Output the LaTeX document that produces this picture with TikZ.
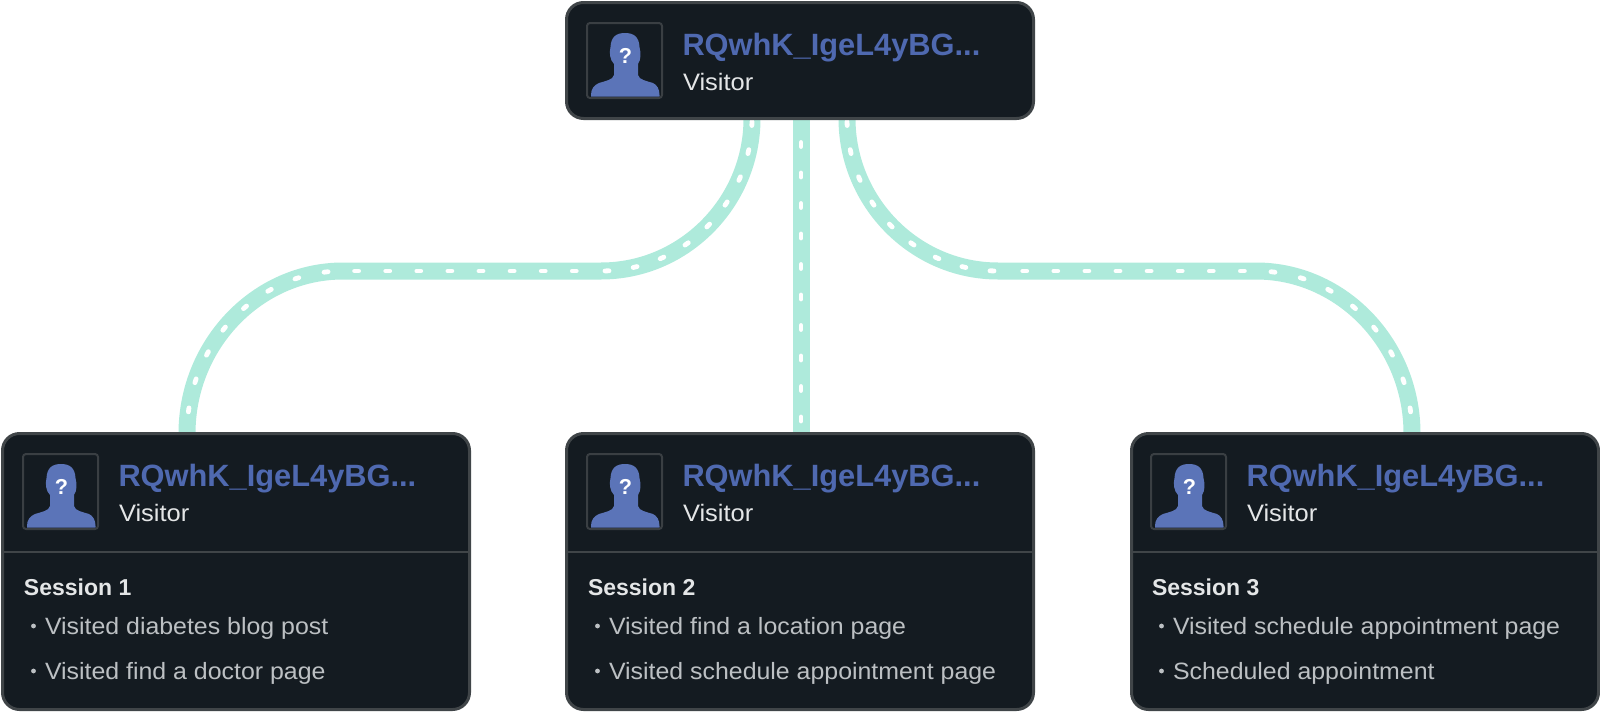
\documentclass[tikz,border=0pt]{standalone}
\usepackage{fontspec}
\setmainfont{Liberation Sans}
\newfontfamily\itemfont{Liberation Sans}[FakeStretch=1.055]
\newfontfamily\rolefont{Liberation Sans}[FakeStretch=1.07]
\usetikzlibrary{backgrounds}
\definecolor{cardbg}{HTML}{141B21}
\definecolor{cardedge}{HTML}{404548}
\definecolor{namecol}{HTML}{4F69B0}
\definecolor{avatarcol}{HTML}{5B74B8}
\definecolor{frameedge}{HTML}{3A3F43}
\definecolor{linkcol}{HTML}{AEEADB}
\definecolor{itemcol}{HTML}{BCC0C3}
\definecolor{softwhite}{HTML}{E4E6E7}
\tikzset{
  card/.style={rectangle,draw=cardedge,line width=1.5pt,fill=cardbg,rounded corners=8.5pt,
    minimum width=233.5pt,outer sep=0pt,inner sep=0pt},
  headcard/.style={card,minimum height=58pt},
  bigcard/.style={card,minimum height=138pt},
  textlabel/.style={anchor=base west,inner sep=0pt,outer sep=0pt},
  visname/.style={textlabel,text=namecol,font=\fontsize{15.4pt}{18pt}\selectfont\bfseries},
  visrole/.style={textlabel,text=softwhite,font=\rolefont\fontsize{11.9pt}{14pt}\selectfont},
  sesstitle/.style={textlabel,text=softwhite,font=\fontsize{11.5pt}{14pt}\selectfont\bfseries},
  sessitem/.style={textlabel,text=itemcol,font=\itemfont\fontsize{11.8pt}{14pt}\selectfont},
  linkbase/.style={draw=linkcol,line width=8.5pt},
  linkdash/.style n args={2}{draw=white,line width=2.4pt,line cap=round,
    dash pattern=on 2pt off #1,dash phase=#2},
  topdash/.style={linkdash={12.2pt}{12.7pt}},
  rundash/.style={linkdash={13.55pt}{3.2pt}},
  lowdash/.style={linkdash={12.95pt}{7.45pt}},
  middash/.style={linkdash={13.25pt}{3.25pt}},
  frameicon/.style={draw=frameedge,line width=1pt,rounded corners=1.5pt},
}
% #1 name prefix, #2 x of card left, #3 y of card top
\newcommand{\visitorhead}[3]{%
  \begin{scope}[shift={(#2+22,#3+22)}]
    \fill[avatarcol] (38,10) .. controls (47,10) and (52,14) .. (52.5,24)
      .. controls (54,30) and (54,37) .. (51,41) -- (51,52)
      .. controls (52,57) and (60,58) .. (66,60)
      .. controls (70,62) and (72.5,66) .. (72.5,72) -- (72.5,73.5) -- (4,73.5) -- (4,72)
      .. controls (4,66) and (7,62) .. (12,60)
      .. controls (18,58) and (26,57) .. (27,52) -- (27,41)
      .. controls (23,37) and (22,30) .. (23.5,24) .. controls (24,14) and (29,10) .. (38,10) -- cycle;
    \draw[frameicon] (0,0) rectangle (75,75);
    \node[inner sep=0pt,text=white,font=\fontsize{10.8pt}{13pt}\selectfont\bfseries] (#1q) at (38.5,33) {?};
  \end{scope}
  \node[visname] (#1name) at (#2+117.5,#3+54) {RQwhK\_IgeL4yBG...};
  \node[visrole] (#1role) at (#2+118,#3+89) {Visitor};
}
% #1 prefix, #2 card left, #3 session, #4 first item, #5 second item
\newcommand{\sessionbody}[5]{%
  \draw[cardedge,line width=1pt] (#2+2,552) -- (#2+468,552);
  \node[sesstitle] (#1title) at (#2+23,595) {Session #3};
  \fill[itemcol] (#2+32.5,626) circle (1.2pt);
  \fill[itemcol] (#2+32.5,671) circle (1.2pt);
  \node[sessitem] (#1first) at (#2+44,634) {#4};
  \node[sessitem] (#1second) at (#2+44,679) {#5};
}
\begin{document}
\begin{tikzpicture}[x=0.5pt,y=-0.5pt]
\useasboundingbox (0,0) rectangle (1600,712);
\node[headcard] (top) at (800,60.5) {};
\node[bigcard] (one) at (236,571.5) {};
\node[bigcard] (two) at (800,571.5) {};
\node[bigcard] (three) at (1365,571.5) {};
\visitorhead{t}{565}{1}
\visitorhead{a}{1}{432}
\visitorhead{b}{565}{432}
\visitorhead{c}{1129}{432}
\sessionbody{a}{1}{1}{Visited diabetes blog post}{Visited find a doctor page}
\sessionbody{b}{565}{2}{Visited find a location page}{Visited schedule appointment page}
\sessionbody{c}{1129}{3}{Visited schedule appointment page}{Scheduled appointment}
\begin{scope}[on background layer]
  \coordinate (la) at (601,271);
  \coordinate (lb) at (343,271);
  \coordinate (ra) at (998,271);
  \coordinate (rb) at (1256,271);
  \path[linkbase] ([xshift=-24pt]top.south) .. controls +(0,83.4) and +(83.4,0) .. (la) -- (lb)
     .. controls +(-86,0) and +(0,-89) .. ([xshift=-24.5pt]one.north);
  \path[linkbase] ([xshift=23.5pt]top.south) .. controls +(0,83.4) and +(-83.4,0) .. (ra) -- (rb)
     .. controls +(86,0) and +(0,-89) .. ([xshift=23.5pt]three.north);
  \path[linkbase] ([xshift=.5pt]top.south) -- ([xshift=.5pt]two.north);
  \path[topdash] ([xshift=-24pt]top.south) .. controls +(0,83.4) and +(83.4,0) .. (la);
  \path[rundash] (la) -- (lb);
  \path[lowdash] (lb) .. controls +(-86,0) and +(0,-89) .. ([xshift=-24.5pt]one.north);
  \path[topdash] ([xshift=23.5pt]top.south) .. controls +(0,83.4) and +(-83.4,0) .. (ra);
  \path[rundash] (ra) -- (rb);
  \path[lowdash] (rb) .. controls +(86,0) and +(0,-89) .. ([xshift=23.5pt]three.north);
  \path[middash] ([xshift=.5pt]top.south) -- ([xshift=.5pt]two.north);
\end{scope}
\end{tikzpicture}
\end{document}
